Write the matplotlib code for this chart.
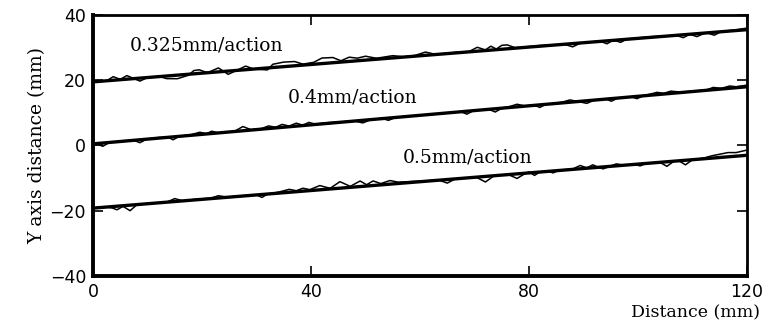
import numpy as np
import matplotlib.pyplot as plt

# fitted straight lines (value at x=0 and x=120)
fit_x = [0, 120]
fit_top = [19.5, 35.5]
fit_mid = [0.5, 18.0]
fit_bot = [-19.2, -3.0]

labels = ['0.325mm/action', '0.4mm/action', '0.5mm/action']
label_pos = [(6.8, 30.6), (35.8, 14.6), (56.9, -3.8)]

# measured traces, read as deviation from the fitted line (mm)
top_x = [0, 2.5, 3.7, 5, 6.2, 7.4, 8.6, 10, 12, 13.5, 15.5, 17.5, 18.5, 19.5, 21, 23,
         24, 24.8, 26.5, 28, 29.5, 32, 33, 35, 37, 38.5, 40.5, 42, 44, 45.5, 47, 48.5,
         50, 52, 55, 57, 59, 61, 63, 67, 69, 70.5, 72, 73, 74, 75, 76, 77.5, 82, 86.5,
         88, 89.5, 93, 94.3, 95.5, 96.8, 98, 102, 107, 108.3, 109.5, 110.8, 112.5, 114,
         115.3, 118, 120]
top_dy = [0.3, 0.0, 1.1, 0.1, 1.1, 0.1, -0.9, 0.0, 0.1, -0.8, -1.1, -0.3, 1.0, 1.1, 0.0, 1.2,
          0.0, -1.0, 0.1, 1.1, 0.0, -0.6, 1.0, 1.4, 1.3, 0.3, 0.6, 1.7, 1.6, 0.4, 1.3, 0.8,
          1.2, 0.3, 0.7, 0.1, 0.2, 1.0, 0.0, 0.2, 0.1, 1.2, 0.2, 1.2, 0.2, 1.2, 1.2, 0.1, 0.2, 0.0,
          -1.0, 0.0, 0.1, -0.9, 0.1, -0.8, 0.1, 0.2, 0.0, -0.9, 0.0, -0.9, 0.1, -0.9,
          0.1, 0.2, 0.5]

mid_x = [0, 1, 1.8, 3, 5, 7.5, 8.6, 9.8, 12, 13.8, 14.7, 15.8, 18, 19.6, 20.8, 21.8, 23,
         26, 27.5, 29, 31, 32.2, 33.5, 34.7, 36, 37.3, 38.5, 39.6, 40.8, 43, 48, 49.5, 51,
         53, 54.2, 55.5, 58, 61, 66, 67.5, 68.6, 69.8, 72.5, 73.8, 75, 76.5, 77.8, 79.2,
         81, 82, 83, 86, 87.5, 89, 90.6, 92, 94, 95.1, 96.3, 98.8, 99.8, 101, 103.5, 104.7,
         106, 108, 112.5, 113.8, 115.3, 116.8, 118, 120]
mid_dy = [-0.3, -0.4, -1.0, 0.0, 0.1, 0.0, -0.9, 0.0, 0.2, 0.0, -0.9, 0.0, 0.2, 0.7, 0.1, 0.7, 0.0,
          0.1, 1.3, 0.1, 0.2, 0.8, 0.2, 0.9, 0.2, 0.9, 0.1, 0.8, 0.1, 0.2, 0.0, -0.8, 0.0,
          0.1, -0.7, 0.0, 0.1, -0.1, 0.0, 0.0, -0.9, 0.0, 0.1, -1.0, 0.0, 0.3, 0.8, 0.1,
          0.0, -0.8, 0.0, 0.2, 0.7, 0.0, -0.8, 0.0, 0.1, -0.8, 0.0, 0.0, -0.7, 0.0, 0.7, 0.2,
          0.7, 0.1, 0.1, 0.7, 0.2, 0.7, 0.3, 0.5]

bot_x = [0, 1, 2.5, 3.5, 4.4, 5.5, 6.8, 8, 10, 13.5, 15, 16.5, 19, 21.5, 23, 24.5, 29, 30,
         31, 32, 34, 36, 37.3, 38.5, 39.8, 41.6, 43.5, 45.3, 47.2, 49, 50.2, 51.4, 52.8,
         54.5, 56, 60, 63.5, 65, 66.5, 70.3, 72, 73.6, 76.2, 77.8, 79.4, 80, 81, 82, 83.5,
         84.4, 85.5, 88, 89.4, 90.6, 91.7, 92.7, 93.6, 94.8, 96, 97.5, 99.3, 100.4, 101.5,
         104, 105.3, 106.6, 107.5, 108.7, 110, 112, 113.5, 115, 116.5, 118, 120]
bot_dy = [-0.3, 0.3, 0.0, -0.4, -1.1, -0.2, -1.7, -0.1, 0.1, 0.0, 0.9, 0.0, 0.2, 0.1, 0.7, 0.1, 0.1, 0.0,
          -0.9, 0.0, 0.3, 0.9, 0.3, 0.9, 0.3, 1.3, 0.2, 2.0, 0.3, 1.7, 0.4, 1.4, 0.4,
          1.1, 0.4, 0.2, 0.0, -1.1, 0.0, 0.0, -1.7, 0.0, 0.0, -1.4, 0.0, 0.3, -0.9, 0.0, 0.1,
          -0.6, 0.1, 0.1, 1.0, 0.1, 0.9, 0.0, -0.6, 0.0, 0.6, 0.0, 0.0, -0.6, 0.0,
          0.0, -1.4, 0.0, 0.0, -1.4, 0.0, 0.2, 0.7, 1.0, 1.3, 1.1, 1.6]

fig = plt.figure(figsize=(7.65, 3.23), dpi=100)
ax = fig.add_axes([0.1216, 0.1455, 0.8549, 0.8081])

for fit, tx, tdy in [(fit_top, top_x, top_dy), (fit_mid, mid_x, mid_dy), (fit_bot, bot_x, bot_dy)]:
    base = np.interp(tx, fit_x, fit)
    ax.plot(tx, base + np.array(tdy), color='black', lw=1.1)
    ax.plot(fit_x, fit, color='black', lw=2.4)

for txt, (lx, ly) in zip(labels, label_pos):
    ax.text(lx, ly, txt, family='DejaVu Serif', fontsize=13.5, va='center', ha='left')

ax.set_xlim(0, 120)
ax.set_ylim(-40, 40)
ax.set_xticks([0, 40, 80, 120])
ax.set_yticks([-40, -20, 0, 20, 40])
ax.set_yticklabels(['\u221240', '\u221220', '0', '20', '40'])
ax.tick_params(direction='in', length=7, width=1.2, top=True, right=True,
               labelsize=12.5, pad=5)
for s in ['left', 'bottom']:
    ax.spines[s].set_linewidth(2.8)
for s in ['top', 'right']:
    ax.spines[s].set_linewidth(2.0)

ax.set_ylabel('Y axis distance (mm)', family='DejaVu Serif', fontsize=13.5, labelpad=2)
fig.text(0.993, 0.03, 'Distance (mm)', family='DejaVu Serif', fontsize=12.5, ha='right', va='center')

fig.savefig('out.png', dpi=100)
